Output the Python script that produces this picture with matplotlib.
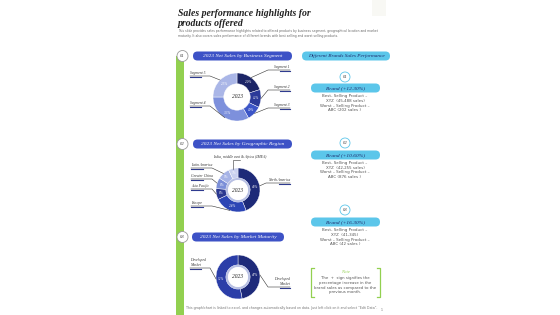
import math
import matplotlib
matplotlib.use("Agg")
import matplotlib.pyplot as plt
from matplotlib.patches import FancyBboxPatch, Circle, Wedge, Rectangle

# Donut 1 - business segment (clockwise from 12 o'clock)
seg_names = ["Segment 1", "Segment 2", "Segment 3", "Segment 4", "Segment 5"]
seg_vals = [20, 12, 10, 33, 25]
seg_colors = ["#1c2566", "#2b3a99", "#3c55c7", "#7d90dc", "#aab6e7"]

# Donut 2 - geographic region
geo_names = ["North America", "Europe", "Asia Pacific", "Greater China",
             "Latin America", "India, middle east & Africa (IMEA)"]
geo_vals = [44, 24, 8, 8, 9, 7]
geo_colors = ["#1d2a78", "#2c45b5", "#2a3890", "#7b8fd8", "#a6b3e6", "#c9d0ef"]

# Donut 3 - market maturity
mat_names = ["Developed\nMarket", "Developed\nMarket"]
mat_vals = [47, 53]
mat_colors = ["#1e2a7a", "#2b3ea8"]

brand_titles = ["Brand (+12.30%)", "Brand (+10.60%)", "Brand (+16.30%)"]
brand_best = ["XYZ  (45,488 sales)", "XYZ  (42,255 sales)", "XYZ  (41,345)"]
brand_worst = ["ABC (202 sales )", "ABC (876 sales )", "ABC (42 sales )"]

title = "Sales performance highlights for\nproducts offered"
subtitle = ("This slide provides sales performance highlights related to offered products by business segment, geographical location and market\n"
            "maturity. It also covers sales performance of different brands with best selling and worst selling products.")
footer = ("This graph/chart is linked to excel, and changes automatically based on data. "
          "Just left click on it and select \u201cEdit Data\u201d.")
note_text = "The  +  sign signifies the\npercentage increase in the\nbrand sales as compared to the\nprevious month."

SERIF = "Liberation Serif"
DARK = "#2f3b8f"
CYAN = "#5cc6ea"
GREEN = "#92d050"

fig = plt.figure(figsize=(5.6, 3.15), dpi=100)
ax = fig.add_axes([0, 0, 1, 1])


def pill(x0, x1, y, h, color, text, tcolor, size):
    p = FancyBboxPatch((x0, y - h / 2), x1 - x0, h,
                       boxstyle="round,pad=0,rounding_size=%f" % (h / 2),
                       fc=color, ec="none", zorder=3)
    ax.add_patch(p)
    ax.text((x0 + x1) / 2, y, text, ha="center", va="center", fontsize=size,
            color=tcolor, family=SERIF, style="italic", zorder=4)


def num_circle(x, y, r, text, ec):
    ax.add_patch(Circle((x, y), r, fc="white", ec=ec, lw=0.6, zorder=5))
    ax.text(x, y, text, ha="center", va="center", fontsize=3.3,
            family=SERIF, style="italic", color="#333333", zorder=6)


def donut(cx, cy, r, vals, colors, names, anchors, inner_ring):
    ax.pie(vals, colors=colors, startangle=270, counterclock=True,
           center=(cx, cy), radius=r,
           wedgeprops=dict(width=r * 0.45, edgecolor="white", linewidth=0.3),
           autopct="%d%%", pctdistance=0.78,
           textprops=dict(fontsize=2.4, color="white", family=SERIF, style="italic"))
    if inner_ring:
        ax.add_patch(Wedge((cx, cy), r * 0.55, 0, 360, width=r * 0.1,
                           fc="#b9c1e4", ec="none", zorder=2))
    ax.add_patch(Circle((cx, cy), r * 0.45, fc="white", ec="none", zorder=2))
    ax.text(cx, cy, "2023", ha="center", va="center", fontsize=4,
            family=SERIF, style="italic", color="#222222", zorder=3)
    total = sum(vals)
    cum = 0
    for v, name, (lx, ly, side, w) in zip(vals, names, anchors):
        th = math.radians(270 + 360 * (cum + v / 2) / total)
        cum += v
        px, py = cx + r * math.cos(th), cy + r * math.sin(th)
        if side == "r":
            ax.plot([px, lx, lx + w], [py, ly, ly], color="#333333", lw=0.4, zorder=3)
            ax.plot([lx + w * 0.55, lx + w], [ly + 0.6, ly + 0.6], color=DARK, lw=0.8, zorder=3)
            tx = lx + w
            ha = "right"
        elif side == "l":
            ax.plot([px, lx, lx - w], [py, ly, ly], color="#333333", lw=0.4, zorder=3)
            ax.plot([lx - w, lx - w * 0.45], [ly + 0.6, ly + 0.6], color=DARK, lw=0.8, zorder=3)
            tx = lx - w
            ha = "left"
        else:
            ax.plot([px, px, lx], [py, ly, ly], color="#333333", lw=0.4, zorder=3)
            tx = lx
            ha = "center"
        ax.text(tx, ly - 1.2, name, ha=ha, va="bottom", fontsize=2.7,
                family=SERIF, style="italic", color="#333333", linespacing=1.2)


# title block
ax.text(178, 28, title, ha="left", va="bottom", fontsize=7.0, family=SERIF,
        style="italic", weight="bold", color="#222222", linespacing=1.15)
ax.text(178, 38, subtitle, ha="left", va="bottom", fontsize=2.15,
        color="#666666", linespacing=1.3)
ax.add_patch(Rectangle((372, 0), 14, 16, fc="#f8f8f4", ec="none"))

# green timeline bar
ax.add_patch(Rectangle((176, 56), 7.5, 259, fc=GREEN, ec="none", zorder=1))

# section headers
pill(193, 292, 56, 9, "#3d52c6", "2023 Net Sales by Business Segment", "white", 3.9)
pill(193, 292, 144, 9, "#3d52c6", "2023 Net Sales by Geographic Region", "white", 3.9)
pill(192, 284, 237, 9, "#3d52c6", "2023 Net Sales by Market Maturity", "white", 3.9)
num_circle(182.5, 56, 5.5, "01", "#999999")
num_circle(182.5, 144, 5.5, "02", "#999999")
num_circle(182.5, 237, 5.5, "03", "#999999")

donut(237, 97, 24, seg_vals, seg_colors, seg_names,
      [(268, 70, "r", 22), (268, 90, "r", 22), (268, 108, "r", 22),
       (210, 106, "l", 20), (210, 76, "l", 20)], False)
donut(238, 190, 22, geo_vals, geo_colors, geo_names,
      [(266, 183, "r", 24), (212, 206, "l", 21), (212, 189, "l", 21),
       (212, 179, "l", 21), (212, 168, "l", 21), (240, 160, "c", 0)], True)
donut(238, 277, 22, mat_vals, mat_colors, mat_names,
      [(268, 287, "r", 22), (210, 268, "l", 20)], True)

# right column
pill(302, 390, 56, 9, CYAN, "Different Brands Sales Performance", "#1f2a6b", 3.8)
for i, (cy_num, cy_pill) in enumerate([(77, 88), (143, 155), (210, 222)]):
    num_circle(345, cy_num, 5, "0%d" % (i + 1), CYAN)
    pill(311, 380, cy_pill, 9, CYAN, brand_titles[i], "#1f2a6b", 3.9)
    lines = "Best- Selling Product \u2013\n%s\nWorst \u2013 Selling Product \u2013\n%s" % (
        brand_best[i], brand_worst[i])
    ax.text(345, cy_pill + 6, lines, ha="center", va="top", fontsize=2.9,
            color="#555555", linespacing=1.25)

# note box with green brackets
for x, d in [(311, 3), (380, -3)]:
    ax.plot([x + d, x, x, x + d], [268, 268, 297, 297], color=GREEN, lw=0.9)
ax.text(345.5, 272, "Note", ha="center", va="center", fontsize=3.3,
        color=GREEN, family=SERIF, style="italic")
ax.text(345.5, 276, note_text, ha="center", va="top", fontsize=2.8,
        color="#555555", linespacing=1.25)

# footer
ax.text(186, 308, footer, ha="left", va="center", fontsize=2.3, color="#777777")
ax.text(382, 310, "1", ha="center", va="center", fontsize=2.3, color="#777777")

ax.set_xlim(0, 560)
ax.set_ylim(315, 0)
ax.axis("off")
fig.savefig("out.png", dpi=100, facecolor="white")
